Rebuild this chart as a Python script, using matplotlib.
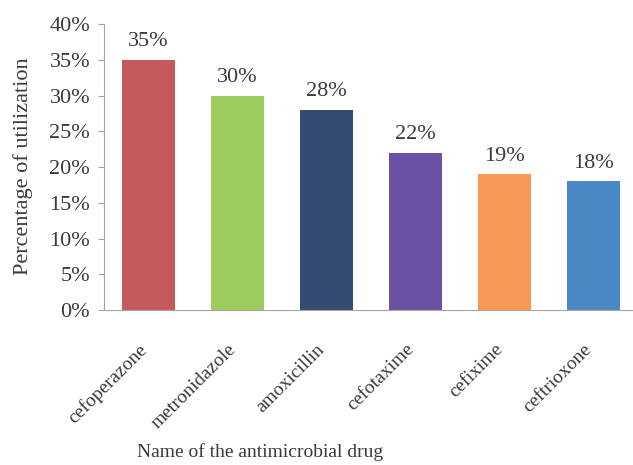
import matplotlib.pyplot as plt
import matplotlib.transforms as mtransforms
from matplotlib.ticker import MultipleLocator, PercentFormatter

drugs = ["cefoperazone", "metronidazole", "amoxicillin", "cefotaxime", "cefixime", "ceftrioxone"]
usage = [35, 30, 28, 22, 19, 18]
colors = ["#C45A5B", "#9DCB5E", "#364B72", "#6B52A4", "#F79857", "#4A89C5"]

plt.rcParams["font.family"] = ["Liberation Serif", "DejaVu Serif"]
text_color = "#3a3a3a"
axis_color = "#a6a6a6"

fig = plt.figure(figsize=(6.33, 4.65), dpi=100)
ax = fig.add_axes([0.1643, 0.3333, 0.8437, 0.615])

x = list(range(len(drugs)))
bars = ax.bar(x, usage, width=0.6, color=colors)
for b, v in zip(bars, usage):
    ax.annotate(f"{v}%", (b.get_x() + b.get_width() / 2, v), xytext=(0, 6),
                textcoords="offset points", ha="center", va="bottom",
                fontsize=16, color=text_color)

ax.set_xlim(-0.5, len(drugs) - 0.5)
ax.set_ylim(0, 40)
ax.yaxis.set_major_locator(MultipleLocator(5))
ax.yaxis.set_major_formatter(PercentFormatter(decimals=0))
ax.set_xticks(x)
ax.set_xticklabels([])

# rotated drug names, set a bit left of and below each category
shift = mtransforms.ScaledTranslation(-7.5 / 72, -22 / 72, fig.dpi_scale_trans)
for i, name in zip(x, drugs):
    ax.text(i, 0, name, transform=ax.get_xaxis_transform() + shift,
            rotation=45, rotation_mode="anchor", ha="right", va="top",
            fontsize=14, color=text_color)

for s in ["top", "right"]:
    ax.spines[s].set_visible(False)
for s in ["left", "bottom"]:
    ax.spines[s].set_color(axis_color)
ax.tick_params(axis="y", colors=axis_color, labelcolor=text_color, labelsize=16, length=4, pad=6)
ax.tick_params(axis="x", length=0)

fig.text(0.037, 0.643, "Percentage of utilization", rotation=90,
         ha="center", va="center", fontsize=16, color=text_color)
fig.text(0.411, 0.028, "Name of the antimicrobial drug", ha="center", va="center",
         fontsize=14, color=text_color)

fig.savefig("out.png", dpi=100)
